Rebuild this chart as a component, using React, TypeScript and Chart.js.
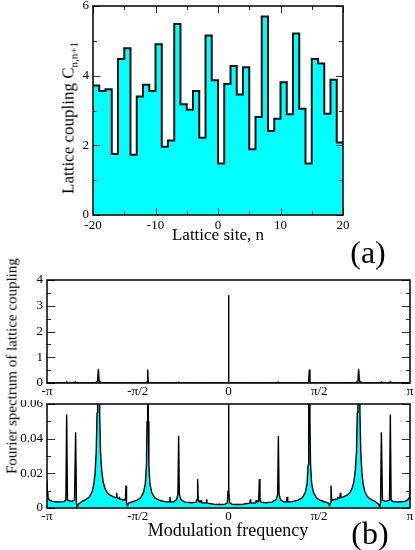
import React, { useEffect, useRef } from 'react';
import { Chart, registerables } from 'chart.js';

Chart.register(...registerables);

const FONT = "'Liberation Serif', 'Times New Roman', serif";

// ---------- panel (a): lattice coupling ----------
const latticeSites = [
  -20, -19, -18, -17, -16, -15, -14, -13, -12, -11,
  -10, -9, -8, -7, -6, -5, -4, -3, -2, -1,
  0, 1, 2, 3, 4, 5, 6, 7, 8, 9,
  10, 11, 12, 13, 14, 15, 16, 17, 18, 19,
];
const latticeCoupling = [
  3.72, 3.56, 3.61, 1.75, 4.48, 4.79, 1.73, 3.40, 3.74, 3.56,
  4.90, 1.96, 2.14, 5.48, 3.18, 3.02, 3.56, 2.22, 5.15, 3.87,
  1.48, 3.76, 4.28, 3.46, 4.24, 1.89, 2.81, 5.70, 2.41, 2.76,
  3.81, 2.89, 5.21, 3.05, 1.48, 4.48, 4.35, 2.91, 3.88, 2.08,
];
const siteAxisEnd = 20;
const siteMajorTicks = [-20, -10, 0, 10, 20];
const siteTickLabels = ['-20', '-10', '0', '10', '20'];
const siteMinorTicks = [-15, -5, 5, 15];
const couplingMajorTicks = [0, 2, 4, 6];
const couplingTickLabels = ['0', '2', '4', '6'];
const couplingMinorTicks = [1, 3, 5];

// ---------- panel (b): Fourier spectrum ----------
const spectrumSamples: [number, number][] = [
  [-3.1416, 0.016], [-3.135, 0.009], [-3.125, 0.006], [-3.10, 0.0045], [-3.05, 0.0038],
  [-2.95, 0.0035], [-2.85, 0.0037], [-2.815, 0.0045], [-2.801, 0.054], [-2.787, 0.0045],
  [-2.72, 0.0038], [-2.665, 0.0045], [-2.646, 0.0437], [-2.632, 0.003], [-2.618, 0.0004],
  [-2.60, 0.0022], [-2.55, 0.0035], [-2.49, 0.0045], [-2.44, 0.0055], [-2.40, 0.0068],
  [-2.36, 0.0095], [-2.33, 0.014], [-2.31, 0.02], [-2.29, 0.032], [-2.275, 0.055],
  [-2.265, 0.1], [-2.253, 0.54], [-2.24, 0.1], [-2.23, 0.055], [-2.215, 0.032],
  [-2.195, 0.022], [-2.17, 0.015], [-2.14, 0.0115], [-2.10, 0.0088], [-2.05, 0.0074],
  [-1.99, 0.0064], [-1.945, 0.006], [-1.936, 0.0088], [-1.928, 0.0058], [-1.895, 0.0054],
  [-1.890, 0.0065], [-1.884, 0.0052], [-1.80, 0.0046], [-1.785, 0.0048], [-1.774, 0.0129],
  [-1.765, 0.003], [-1.748, 0.0012], [-1.73, 0.0028], [-1.66, 0.0036], [-1.58, 0.0045],
  [-1.52, 0.006], [-1.47, 0.009], [-1.44, 0.014], [-1.42, 0.025], [-1.41, 0.05],
  [-1.399, 0.52], [-1.388, 0.05], [-1.378, 0.025], [-1.36, 0.014], [-1.33, 0.009],
  [-1.28, 0.006], [-1.20, 0.0045], [-1.10, 0.0037], [-1.025, 0.0035], [-1.013, 0.0064],
  [-1.003, 0.0034], [-0.95, 0.0036], [-0.90, 0.0048], [-0.875, 0.008], [-0.863, 0.0417],
  [-0.851, 0.008], [-0.825, 0.0048], [-0.75, 0.0034], [-0.64, 0.003], [-0.56, 0.0034],
  [-0.545, 0.005], [-0.534, 0.0167], [-0.523, 0.004], [-0.505, 0.0035], [-0.497, 0.0045],
  [-0.487, 0.0032], [-0.475, 0.0045], [-0.465, 0.003], [-0.42, 0.0028], [-0.385, 0.003],
  [-0.378, 0.005], [-0.37, 0.0028], [-0.25, 0.0022], [-0.165, 0.002], [-0.159, 0.0024],
  [-0.153, 0.002], [-0.06, 0.0022], [-0.02, 0.003], [-0.008, 0.01],
  [0, 3.41],
  [0.008, 0.01], [0.02, 0.003], [0.06, 0.0022], [0.153, 0.002], [0.159, 0.0024],
  [0.165, 0.002], [0.25, 0.0022], [0.37, 0.0028], [0.378, 0.005], [0.385, 0.003],
  [0.42, 0.0028], [0.465, 0.003], [0.475, 0.0045], [0.487, 0.0032], [0.497, 0.0045],
  [0.505, 0.0035], [0.523, 0.004], [0.534, 0.0167], [0.545, 0.005], [0.56, 0.0034],
  [0.64, 0.003], [0.75, 0.0034], [0.825, 0.0048], [0.851, 0.008], [0.863, 0.0417],
  [0.875, 0.008], [0.90, 0.0048], [0.95, 0.0036], [1.003, 0.0034], [1.013, 0.0064],
  [1.025, 0.0035], [1.10, 0.0037], [1.20, 0.0045], [1.28, 0.006], [1.33, 0.009],
  [1.36, 0.014], [1.378, 0.025], [1.388, 0.05], [1.399, 0.52], [1.41, 0.05],
  [1.42, 0.025], [1.44, 0.014], [1.47, 0.009], [1.52, 0.006], [1.58, 0.0045],
  [1.66, 0.0036], [1.73, 0.0028], [1.748, 0.0012], [1.765, 0.003], [1.774, 0.0129],
  [1.785, 0.0048], [1.80, 0.0046], [1.884, 0.0052], [1.890, 0.0065], [1.895, 0.0054],
  [1.928, 0.0058], [1.936, 0.0088], [1.945, 0.006], [1.99, 0.0064], [2.05, 0.0074],
  [2.10, 0.0088], [2.14, 0.0115], [2.17, 0.015], [2.195, 0.022], [2.215, 0.032],
  [2.23, 0.055], [2.24, 0.1], [2.253, 0.54], [2.265, 0.1], [2.275, 0.055],
  [2.29, 0.032], [2.31, 0.02], [2.33, 0.014], [2.36, 0.0095], [2.40, 0.0068],
  [2.44, 0.0055], [2.49, 0.0045], [2.55, 0.0035], [2.60, 0.0022], [2.618, 0.0004],
  [2.632, 0.003], [2.646, 0.0437], [2.665, 0.0045], [2.72, 0.0038], [2.787, 0.0045],
  [2.801, 0.054], [2.815, 0.0045], [2.85, 0.0037], [2.95, 0.0035], [3.05, 0.0038],
  [3.10, 0.0045], [3.125, 0.006], [3.135, 0.009], [3.1416, 0.016],
];
const freqTicks = [-Math.PI, -Math.PI / 2, 0, Math.PI / 2, Math.PI];
const freqTickLabels = ['-π', '-π/2', '0', 'π/2', 'π'];
const fullMajorTicks = [0, 1, 2, 3, 4];
const fullTickLabels = ['0', '1', '2', '3', '4'];
const fullMinorTicks = [0.5, 1.5, 2.5, 3.5];
const zoomMajorTicks = [0, 0.02, 0.04, 0.06];
const zoomTickLabels = ['0', '0.02', '0.04', '0.06'];
const zoomMinorTicks = [0.01, 0.03, 0.05];

type FrameSpec = {
  xMajor: number[];
  xMinor: number[];
  yMajor: number[];
  yMinor: number[];
  majorLen: number;
  minorLen: number;
};

function framePlugin(spec: FrameSpec) {
  return {
    id: 'frameTicks',
    afterDatasetsDraw(chart: any) {
      const { ctx, chartArea: a } = chart;
      const xs = chart.scales.x;
      const ys = chart.scales.y;
      ctx.save();
      ctx.strokeStyle = '#333';
      ctx.lineWidth = 1;
      ctx.beginPath();
      const seg = (x1: number, y1: number, x2: number, y2: number) => {
        ctx.moveTo(x1, y1);
        ctx.lineTo(x2, y2);
      };
      const xt = (vals: number[], len: number) =>
        vals.forEach((v) => {
          const p = Math.round(xs.getPixelForValue(v)) + 0.5;
          seg(p, a.bottom, p, a.bottom - len);
          seg(p, a.top, p, a.top + len);
        });
      const yt = (vals: number[], len: number) =>
        vals.forEach((v) => {
          const p = Math.round(ys.getPixelForValue(v)) + 0.5;
          seg(a.left, p, a.left + len, p);
          seg(a.right, p, a.right - len, p);
        });
      xt(spec.xMajor, spec.majorLen);
      xt(spec.xMinor, spec.minorLen);
      yt(spec.yMajor, spec.majorLen);
      yt(spec.yMinor, spec.minorLen);
      ctx.stroke();
      ctx.strokeStyle = '#000';
      ctx.lineWidth = 1.5;
      ctx.strokeRect(a.left, a.top, a.right - a.left, a.bottom - a.top);
      ctx.restore();
    },
  };
}

function axis(opts: {
  min: number;
  max: number;
  ticks: number[];
  labels: string[];
  size: number;
  padding: number;
  fit: (s: any) => void;
}) {
  return {
    type: 'linear' as const,
    min: opts.min,
    max: opts.max,
    grid: { display: false, drawTicks: false },
    border: { display: false },
    ticks: {
      autoSkip: false,
      maxRotation: 0,
      padding: opts.padding,
      color: '#000',
      font: { family: FONT, size: opts.size },
      callback: (_v: any, i: number) => opts.labels[i],
    },
    afterBuildTicks: (s: any) => {
      s.ticks = opts.ticks.map((v) => ({ value: v }));
    },
    afterFit: opts.fit,
  };
}

function topConfig(): any {
  const pts = latticeSites.map((n, i) => ({ x: n, y: latticeCoupling[i] }));
  pts.push({ x: siteAxisEnd, y: latticeCoupling[latticeCoupling.length - 1] });
  return {
    type: 'line',
    data: {
      datasets: [
        {
          data: pts,
          stepped: 'before',
          borderColor: '#111',
          borderWidth: 2,
          backgroundColor: '#00ffff',
          fill: 'origin',
          pointRadius: 0,
        },
      ],
    },
    options: {
      animation: false,
      responsive: false,
      devicePixelRatio: 1,
      layout: { padding: { left: 0, right: 72, top: 6, bottom: 0 } },
      plugins: { legend: { display: false }, tooltip: { enabled: false } },
      scales: {
        x: axis({
          min: -20, max: 20, ticks: siteMajorTicks, labels: siteTickLabels, size: 13, padding: 3,
          fit: (s) => { s.height = 35; s.paddingLeft = 0; s.paddingRight = 0; },
        }),
        y: axis({
          min: 0, max: 6, ticks: couplingMajorTicks, labels: couplingTickLabels, size: 13, padding: 4,
          fit: (s) => { s.width = 93; s.paddingTop = 0; s.paddingBottom = 0; },
        }),
      },
    },
    plugins: [
      framePlugin({
        xMajor: siteMajorTicks, xMinor: siteMinorTicks,
        yMajor: couplingMajorTicks, yMinor: couplingMinorTicks,
        majorLen: 7, minorLen: 4,
      }),
    ],
  };
}

function spectrumConfig(
  yMax: number,
  yTicks: number[],
  yLabels: string[],
  yMinor: number[],
  top: number,
  xHeight: number
): any {
  const pts = spectrumSamples.map(([f, p]) => ({ x: f, y: p }));
  return {
    type: 'line',
    data: {
      datasets: [
        {
          data: pts,
          borderColor: '#000',
          borderWidth: 1.4,
          borderJoinStyle: 'bevel',
          backgroundColor: '#00ffff',
          fill: 'origin',
          pointRadius: 0,
          tension: 0,
          clip: 0,
        },
      ],
    },
    options: {
      animation: false,
      responsive: false,
      devicePixelRatio: 1,
      layout: { padding: { left: 0, right: 5, top: top, bottom: 0 } },
      plugins: { legend: { display: false }, tooltip: { enabled: false } },
      scales: {
        x: axis({
          min: -Math.PI, max: Math.PI, ticks: freqTicks, labels: freqTickLabels, size: 13, padding: 1,
          fit: (s) => { s.height = xHeight; s.paddingLeft = 0; s.paddingRight = 0; },
        }),
        y: axis({
          min: 0, max: yMax, ticks: yTicks, labels: yLabels, size: 13, padding: 4,
          fit: (s) => { s.width = 47; s.paddingTop = 0; s.paddingBottom = 0; },
        }),
      },
    },
    plugins: [
      framePlugin({
        xMajor: [], xMinor: [],
        yMajor: yTicks, yMinor: yMinor,
        majorLen: 8, minorLen: 4,
      }),
    ],
  };
}

const rot = (cx: number, cy: number): React.CSSProperties => ({
  position: 'absolute',
  left: cx,
  top: cy,
  transform: 'translate(-50%, -50%) rotate(-90deg)',
  whiteSpace: 'nowrap',
  lineHeight: 1,
});
const centered = (cx: number, cy: number, size: number): React.CSSProperties => ({
  position: 'absolute',
  left: cx,
  top: cy,
  transform: 'translate(-50%, -50%)',
  whiteSpace: 'nowrap',
  lineHeight: 1,
  fontSize: size,
});

export default function App() {
  const c1 = useRef<HTMLCanvasElement>(null);
  const c2 = useRef<HTMLCanvasElement>(null);
  const c3 = useRef<HTMLCanvasElement>(null);

  useEffect(() => {
    const charts = [
      new Chart(c1.current!, topConfig()),
      new Chart(c2.current!, spectrumConfig(4, fullMajorTicks, fullTickLabels, fullMinorTicks, 30, 17)),
      new Chart(c3.current!, spectrumConfig(0.06, zoomMajorTicks, zoomTickLabels, zoomMinorTicks, 4, 42)),
    ];
    return () => charts.forEach((c) => c.destroy());
  }, []);

  return (
    <div
      style={{
        position: 'fixed',
        left: 0,
        top: 0,
        width: 415,
        height: 550,
        background: '#fff',
        fontFamily: FONT,
        color: '#000',
        overflow: 'hidden',
      }}
    >
      <canvas ref={c1} width={415} height={250} style={{ position: 'absolute', left: 0, top: 0 }} />
      <canvas ref={c2} width={415} height={150} style={{ position: 'absolute', left: 0, top: 250 }} />
      <canvas ref={c3} width={415} height={150} style={{ position: 'absolute', left: 0, top: 400 }} />

      <div style={{ ...rot(68, 118), fontSize: 17 }}>
        Lattice coupling C
        <span style={{ fontSize: 11, position: 'relative', top: 4 }}>n,n+1</span>
      </div>
      <div style={centered(218, 234, 17)}>Lattice site, n</div>
      <div style={centered(368, 252, 32)}>(a)</div>

      <div style={{ ...rot(12, 366), fontSize: 15 }}>Fourier spectrum of lattice coupling</div>
      <div style={centered(228, 530, 18)}>Modulation frequency</div>
      <div style={centered(370, 533, 32)}>(b)</div>
    </div>
  );
}
